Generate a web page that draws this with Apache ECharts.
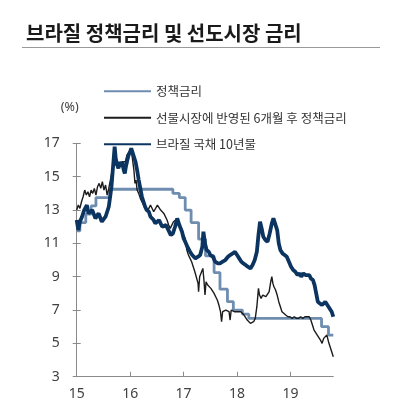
<!DOCTYPE html>
<html>
<head>
<meta charset="utf-8">
<script src="https://cdn.jsdelivr.net/npm/echarts@6/dist/echarts.min.js"></script>
<style>
html,body{margin:0;padding:0;background:#fff;}
#c{width:406px;height:418px;}
</style>
</head>
<body>
<div id="c"></div>
<script>
const titleText = '브라질 정책금리 및 선도시장 금리';
const seriesNames = ['정책금리', '선물시장에 반영된 6개월 후 정책금리', '브라질 국채 10년물'];
const xTickValues = [15, 16, 17, 18, 19];

// Policy rate (step changes): decimal year, %
const policyX = [15.00, 15.06, 15.17, 15.27, 15.36, 15.62, 16.80, 16.92, 17.03, 17.14, 17.28, 17.41, 17.57, 17.68, 17.82, 17.93, 18.10, 18.22, 19.58, 19.71, 19.80];
const policyY = [11.75, 12.25, 12.75, 13.25, 13.75, 14.25, 14.00, 13.75, 13.00, 12.25, 11.25, 10.25, 9.25, 8.25, 7.50, 7.00, 6.75, 6.50, 6.00, 5.50, 5.50];

// Futures-implied policy rate 6 months ahead
const futX = [15.00,15.03,15.06,15.09,15.12,15.15,15.18,15.21,15.24,15.27,15.30,15.33,15.36,15.39,15.42,15.45,15.48,15.51,15.54,15.57,15.60,15.63,15.66,15.69,15.72,15.75,15.78,15.82,15.85,15.88,15.91,15.94,15.97,16.00,16.03,16.05,16.07,16.09,16.11,16.13,16.16,16.19,16.22,16.25,16.28,16.32,16.35,16.38,16.41,16.44,16.47,16.51,16.54,16.57,16.60,16.63,16.66,16.69,16.72,16.75,16.78,16.81,16.85,16.88,16.91,16.94,16.97,17.00,17.03,17.06,17.09,17.12,17.15,17.18,17.21,17.24,17.27,17.28,17.30,17.33,17.36,17.38,17.40,17.42,17.45,17.48,17.51,17.54,17.57,17.60,17.63,17.66,17.69,17.71,17.73,17.76,17.79,17.82,17.85,17.87,17.89,17.92,17.95,17.98,18.01,18.04,18.07,18.10,18.13,18.16,18.19,18.22,18.25,18.28,18.31,18.34,18.37,18.40,18.42,18.45,18.48,18.51,18.54,18.57,18.60,18.63,18.65,18.67,18.69,18.72,18.75,18.78,18.81,18.84,18.87,18.91,18.95,18.99,19.03,19.07,19.11,19.15,19.19,19.23,19.27,19.31,19.35,19.38,19.41,19.44,19.47,19.50,19.53,19.56,19.59,19.62,19.65,19.68,19.71,19.74,19.77,19.80];
const futY = [13.0,13.3,13.1,13.5,13.8,14.2,13.9,14.1,13.8,14.2,14.0,14.3,13.9,14.4,14.6,14.3,14.7,14.2,14.5,13.9,14.3,14.8,15.3,16.0,15.7,15.6,15.8,15.7,15.9,16.0,15.9,16.3,16.4,16.6,16.4,16.3,15.4,14.6,14.8,14.2,14.0,13.7,13.5,13.3,13.1,12.9,13.1,13.3,13.2,12.9,13.0,13.3,13.3,13.0,12.9,12.8,12.7,12.4,12.1,11.9,12.0,12.3,12.4,12.5,12.2,11.9,11.7,11.5,11.3,10.6,10.3,10.1,9.9,9.6,9.3,9.2,8.6,8.1,9.0,9.1,9.5,8.8,7.9,8.7,8.5,8.4,8.3,8.2,8.0,7.8,7.6,7.3,6.9,6.3,6.9,7.0,7.0,6.9,6.9,6.4,7.0,7.0,6.9,6.8,6.9,7.0,6.9,6.8,6.7,6.6,6.4,6.3,6.2,6.2,6.3,6.5,7.2,8.3,7.9,7.7,7.9,8.0,7.8,7.9,8.1,8.7,9.0,8.6,8.4,8.2,7.9,7.5,7.2,6.9,6.8,6.7,6.6,6.6,6.5,6.6,6.5,6.5,6.6,6.5,6.6,6.6,6.6,6.4,6.1,5.8,5.7,5.5,5.4,5.2,5.0,5.3,5.4,5.5,5.1,4.8,4.5,4.2];

// Brazil 10-year government bond yield
const bondX = [15.00,15.03,15.06,15.10,15.14,15.19,15.22,15.25,15.29,15.32,15.35,15.38,15.41,15.44,15.47,15.50,15.54,15.57,15.60,15.63,15.65,15.67,15.69,15.71,15.73,15.75,15.78,15.80,15.82,15.85,15.88,15.90,15.92,15.94,15.97,16.00,16.02,16.05,16.07,16.10,16.13,16.16,16.19,16.22,16.25,16.28,16.31,16.35,16.38,16.41,16.44,16.47,16.50,16.54,16.57,16.60,16.63,16.67,16.70,16.72,16.76,16.80,16.84,16.88,16.92,16.97,17.00,17.03,17.07,17.12,17.16,17.22,17.27,17.31,17.35,17.37,17.40,17.43,17.47,17.50,17.55,17.59,17.64,17.68,17.73,17.78,17.83,17.87,17.92,17.96,18.00,18.04,18.08,18.12,18.16,18.20,18.25,18.29,18.33,18.37,18.40,18.43,18.46,18.49,18.53,18.57,18.61,18.65,18.68,18.71,18.75,18.78,18.81,18.85,18.89,18.93,18.97,19.01,19.05,19.09,19.13,19.17,19.20,19.24,19.28,19.31,19.35,19.38,19.42,19.45,19.48,19.51,19.55,19.59,19.62,19.65,19.68,19.71,19.74,19.77,19.80];
const bondY = [12.4,11.8,12.3,12.6,13.0,13.3,12.8,12.7,13.0,12.9,12.5,12.4,12.8,12.7,12.3,12.4,12.6,12.5,13.2,13.9,14.4,15.2,16.0,16.8,16.1,15.8,15.5,15.9,15.6,15.9,15.4,15.2,15.6,15.9,16.3,16.5,16.7,16.4,16.3,15.9,15.4,14.8,14.3,13.8,13.5,13.2,13.0,12.9,12.6,12.7,12.4,12.2,12.1,12.4,12.3,12.0,11.9,12.1,11.9,11.8,11.5,11.6,12.0,12.5,12.1,11.7,11.3,11.1,10.8,10.5,10.3,10.1,10.2,10.3,10.8,11.7,11.0,10.6,10.5,10.3,10.2,9.9,9.8,9.8,9.9,10.0,10.2,10.3,10.4,10.5,10.3,10.1,9.9,9.8,9.7,9.6,9.5,9.7,10.0,10.5,11.5,12.3,11.9,11.4,11.2,11.1,11.6,12.2,12.5,12.2,11.8,11.0,10.6,10.4,10.3,10.2,9.9,9.6,9.4,9.3,9.1,9.2,9.0,9.2,9.1,9.0,9.1,8.9,8.8,8.5,8.0,7.5,7.4,7.3,7.4,7.5,7.4,7.2,7.1,6.9,6.6];

const pairs = (xs, ys) => xs.map((x, i) => [x, ys[i]]);

const chart = echarts.init(document.getElementById('c'), null, {renderer: 'canvas'});
const axisColor = '#8a8a8a';
const labelColor = '#404040';
const numFont = "'Noto Sans', 'Liberation Sans', sans-serif";
const krFont = "'Noto Sans CJK KR', 'Noto Sans', sans-serif";

chart.setOption({
  animation: false,
  backgroundColor: '#fff',
  title: {
    text: titleText,
    left: 21,
    top: 18,
    textStyle: {fontSize: 20, fontWeight: 'bold', color: '#1a1a1a', fontFamily: krFont}
  },
  graphic: [{
    type: 'line',
    shape: {x1: 22, y1: 47.5, x2: 380, y2: 47.5},
    style: {stroke: '#9a9a9a', lineWidth: 1}
  }],
  legend: {
    orient: 'vertical',
    left: 98,
    top: 80,
    itemWidth: 47,
    itemHeight: 14,
    itemGap: 14,
    itemStyle: {opacity: 0},
    textStyle: {fontSize: 12.5, color: '#333', fontFamily: krFont},
    data: seriesNames
  },
  grid: {left: 76.7, top: 143.4, right: 72.7, bottom: 41.3, containLabel: false, outerBoundsMode: 'none'},
  xAxis: {
    type: 'value',
    min: 15,
    max: 19.8,
    interval: 1,
    splitLine: {show: false},
    axisLine: {show: true, onZero: false, lineStyle: {color: axisColor, width: 1}},
    axisTick: {show: true, inside: true, length: 5, lineStyle: {color: axisColor}, customValues: xTickValues},
    axisLabel: {
      color: labelColor, fontSize: 14, margin: 10, fontFamily: numFont,
      customValues: xTickValues,
      formatter: v => (Number.isInteger(v) ? String(v) : '')
    }
  },
  yAxis: [{
    type: 'value',
    min: 3,
    max: 17,
    interval: 2,
    name: '(%)',
    nameLocation: 'end',
    nameGap: 29,
    nameTextStyle: {color: labelColor, fontSize: 12.5, align: 'right', fontFamily: numFont, padding: [0, -2, 0, 0]},
    splitLine: {show: false},
    axisLine: {show: true, lineStyle: {color: axisColor, width: 1}},
    axisTick: {show: true, inside: false, length: 4, lineStyle: {color: axisColor}},
    axisLabel: {color: labelColor, fontSize: 14, margin: 17, fontFamily: numFont}
  }, {
    type: 'value',
    min: 3,
    max: 17,
    interval: 2,
    position: 'left',
    splitLine: {show: false},
    axisLine: {show: false},
    axisTick: {show: true, inside: true, length: 4, lineStyle: {color: axisColor}},
    axisLabel: {show: false}
  }],
  series: [{
    name: seriesNames[0],
    type: 'line',
    step: 'end',
    symbol: 'none',
    data: pairs(policyX, policyY),
    lineStyle: {color: '#6f8daf', width: 2.8},
    itemStyle: {color: '#6f8daf'},
    z: 2
  }, {
    name: seriesNames[1],
    type: 'line',
    symbol: 'none',
    data: pairs(futX, futY),
    lineStyle: {color: '#1c1c1c', width: 1.4},
    itemStyle: {color: '#1c1c1c'},
    z: 3
  }, {
    name: seriesNames[2],
    type: 'line',
    symbol: 'none',
    data: pairs(bondX, bondY),
    lineStyle: {color: '#0c3460', width: 3.8},
    itemStyle: {color: '#0c3460'},
    z: 4
  }]
});
</script>
</body>
</html>
